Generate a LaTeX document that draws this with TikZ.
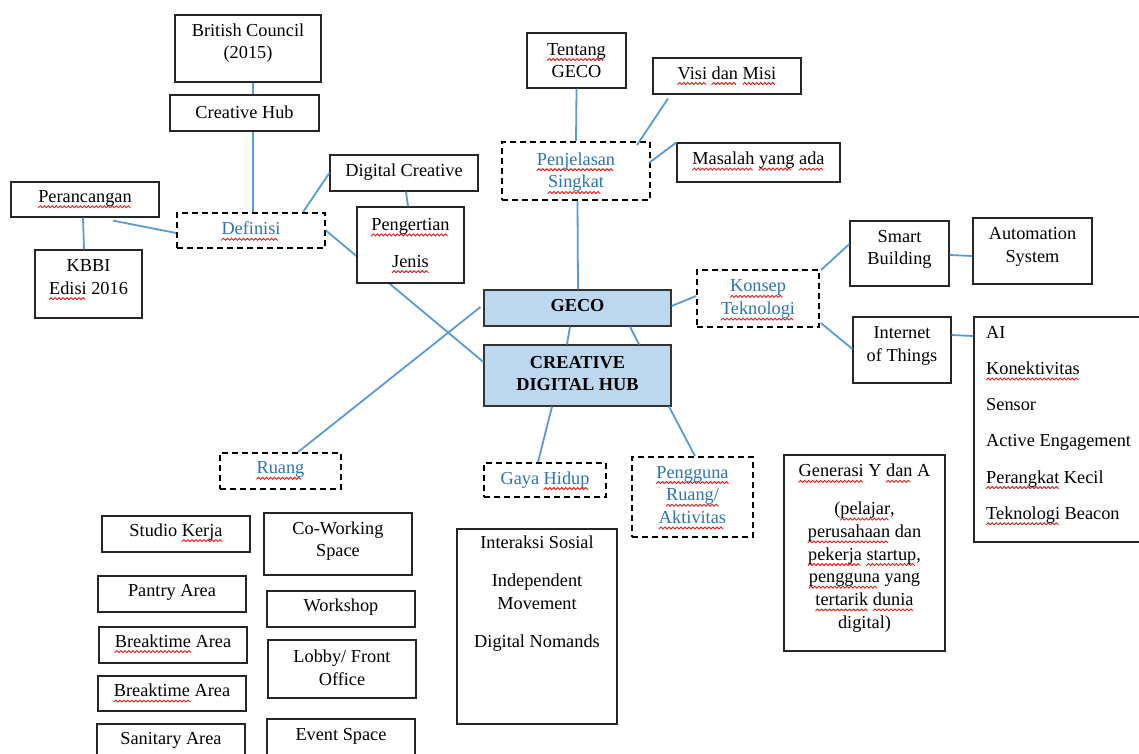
\documentclass[tikz,border=0pt]{standalone}
\usepackage{fontspec}
\setmainfont{Liberation Serif}
\usetikzlibrary{fit,calc}
\definecolor{connblue}{RGB}{91,155,213}
\definecolor{hubfill}{RGB}{189,215,238}
\definecolor{linkblue}{RGB}{46,116,181}
\definecolor{waveRed}{RGB}{230,30,30}
\newcommand\wavepiece{\tikz[x=1pt,y=1pt,baseline=0pt]{\useasboundingbox (0,0) rectangle (4,0);\draw[waveRed,line width=0.9pt,line cap=round] (0,-1)--(2,1)--(4,-1);}}
\newcommand\wv[1]{\setbox0\hbox{#1}\rlap{\lower4.5pt\hbox to \wd0{\leaders\hbox{\wavepiece}\hfill}}\box0\relax}
\tikzset{
 box/.style={draw=black!85, line width=1.2pt, fill=white, inner sep=0pt},
 dbox/.style={draw=black, line width=1.8pt, dash pattern=on 6pt off 4pt, fill=white, inner sep=0pt},
 hub/.style={draw=black!80, line width=1.2pt, fill=hubfill, inner sep=0pt},
 txt/.style={inner sep=0pt, align=center, font=\fontsize{18.3}{22.7}\selectfont},
 ltxt/.style={txt, text=linkblue},
 cline/.style={draw=connblue, line width=1.8pt},
}
\begin{document}
\begin{tikzpicture}[x=1pt,y=-1pt]
\useasboundingbox (0,0) rectangle (1139,753);
\fill[white] (0,0) rectangle (1139,753);
\clip (0,0) rectangle (1139,753);

% left cluster
\node[box, fit={(175,15) (321,82)}] (bc) {};
\node[txt] (bct) at ($(bc.center)+(0,-5.5)$) {British Council\\(2015)};
\node[box, fit={(170,95) (319,131)}] (ch) {};
\node[txt] (cht) at ($(ch.center)+(0,-1)$) {Creative Hub};
\node[box, fit={(11,182) (159,217)}] (per) {};
\node[txt] (pert) at ($(per.center)+(0,-1)$) {\wv{Perancangan}};
\node[dbox, fit={(177,213) (325,248)}] (def) {};
\node[ltxt] (deft) at ($(def.center)+(0,0)$) {\wv{Definisi}};
\node[box, fit={(35,250) (142,318)}] (kbbi) {};
\node[txt] (kbbit) at ($(kbbi.center)+(0,-5)$) {KBBI\\\wv{Edisi} 2016};
\node[box, fit={(330,155) (478,191)}] (dc) {};
\node[txt] (dct) at ($(dc.center)+(0,-1)$) {Digital Creative};

% top cluster
\node[box, fit={(527,33) (626,88)}] (tg) {};
\node[txt] (tgt) at ($(tg.center)+(0,0)$) {\wv{Tentang}\\GECO};
\node[box, fit={(653,58) (801,94)}] (visi) {};
\node[txt] (visit) at ($(visi.center)+(0,-1)$) {\wv{Visi} \wv{dan} \wv{Misi}};
\node[dbox, fit={(502,142) (650,200)}] (pen) {};
\node[ltxt] (pent) at ($(pen.center)+(0,1.5)$) {\wv{Penjelasan}\\\wv{Singkat}};
\node[box, fit={(677,143) (840,182)}] (mas) {};
\node[txt] (mast) at ($(mas.center)+(0,-2)$) {\wv{Masalah} \wv{yang} \wv{ada}};

% hub
\node[hub, fit={(484,290) (671,326)}] (geco) {};
\node[txt] (gecot) at ($(geco.center)+(0,-2)$) {\textbf{GECO}};
\node[hub, fit={(484,345) (671,406)}] (cdh) {};
\node[txt] (cdht) at ($(cdh.center)+(0,-2)$) {\textbf{CREATIVE}\\\textbf{DIGITAL HUB}};

% right cluster
\node[dbox, fit={(697,270) (819,327)}] (kon) {};
\node[ltxt] (kont) at ($(kon.center)+(0,1)$) {\wv{Konsep}\\\wv{Teknologi}};
\node[box, fit={(850,221) (949,286)}] (sb) {};
\node[txt] (sbt) at ($(sb.center)+(0,-4)$) {Smart\\Building};
\node[box, fit={(973,218) (1092,284)}] (as) {};
\node[txt] (ast) at ($(as.center)+(0,-4)$) {Automation\\System};
\node[box, fit={(853,317) (951,383)}] (iot) {};
\node[txt] (iott) at ($(iot.center)+(0,-4)$) {Internet\\of Things};
\node[box, fit={(974,317) (1150,542)}] (list) {};
\node[txt, align=left, anchor=north west] (listt) at (986,326) {AI\\[13.5pt]\wv{Konektivitas}\\[13.5pt]Sensor\\[13.5pt]Active Engagement\\[13.5pt]\wv{Perangkat} Kecil\\[13.5pt]\wv{Teknologi} Beacon};

% lower middle
\node[dbox, fit={(220,453) (341,489)}] (ruang) {};
\node[ltxt] (ruangt) at ($(ruang.center)+(0,-1)$) {\wv{Ruang}};
\node[dbox, fit={(484,463) (606,497)}] (gaya) {};
\node[ltxt] (gayat) at ($(gaya.center)+(0,0)$) {Gaya \wv{Hidup}};
\node[dbox, fit={(632,457) (753,537)}] (peng) {};
\node[ltxt] (pengt) at ($(peng.center)+(0,0)$) {\wv{Pengguna}\\\wv{Ruang/}\\\wv{Aktivitas}};
\node[box, fit={(784,455) (945,651)}] (gen) {};
\node[txt, anchor=north] (gent) at (864.5,464) {\wv{Generasi} Y \wv{dan} A\\[15pt](\wv{pelajar},\\\wv{perusahaan} dan\\\wv{pekerja} \wv{startup},\\\wv{pengguna} yang\\\wv{tertarik} \wv{dunia}\\digital)};
\node[box, fit={(457,529) (617,724)}] (inter) {};
\node[txt, anchor=north] (intert) at (537,536) {Interaksi Sosial\\[15pt]Independent\\Movement\\[15pt]Digital Nomands};

% rooms
\node[box, fit={(102,516) (250,552)}] (studio) {};
\node[txt] (studiot) at ($(studio.center)+(0,-2)$) {Studio \wv{Kerja}};
\node[box, fit={(264,513) (412,575)}] (cws) {};
\node[txt] (cwst) at ($(cws.center)+(0,-3)$) {Co-Working\\Space};
\node[box, fit={(98,576) (246,612)}] (pantry) {};
\node[txt] (pantryt) at ($(pantry.center)+(0,-2)$) {Pantry Area};
\node[box, fit={(267,591) (415,627)}] (work) {};
\node[txt] (workt) at ($(work.center)+(0,-2)$) {Workshop};
\node[box, fit={(99,627) (247,663)}] (brka) {};
\node[txt] (brkat) at ($(brka.center)+(0,-2)$) {\wv{Breaktime} Area};
\node[box, fit={(268,640) (416,698)}] (lobby) {};
\node[txt] (lobbyt) at ($(lobby.center)+(0,-1)$) {Lobby/ Front\\Office};
\node[box, fit={(98,676) (246,711)}] (brkb) {};
\node[txt] (brkbt) at ($(brkb.center)+(0,-1)$) {\wv{Breaktime} Area};
\node[box, fit={(97,724) (245,762)}] (san) {};
\node[txt] (sant) at ($(san.center)+(0,-3)$) {Sanitary Area};
\node[box, fit={(267,719) (415,757)}] (event) {};
\node[txt] (eventt) at ($(event.center)+(0,-2)$) {Event Space};

% connectors
\draw[cline] ($(bc.south)+(5,0)$) -- ($(ch.north)+(8.5,0)$);
\draw[cline] ($(ch.south)+(8.5,0)$) -- ($(def.north)+(2,0)$);
\draw[cline] ($(per.south)+(-2,0)$) -- ($(kbbi.north)+(-4.5,0)$);
\draw[cline] ($(per.south)+(28,3)$) -- ($(def.west)+(0,2.5)$);
\draw[cline] ($(def.north)+(52,0)$) -- (dc.west);
\draw[cline] (def.east) -- ($(cdh.west)+(0,-13.5)$);
\draw[cline] (tg.south) -- (pen.north);
\draw[cline] ($(visi.south)+(-59,4)$) -- ($(pen.north)+(61,4)$);
\draw[cline] (mas.north west) -- ($(pen.east)+(-2,-8)$);
\draw[cline] ($(pen.south)+(1.5,0)$) -- ($(geco.north)+(0.5,0)$);
\draw[cline] ($(geco.east)+(0,-2)$) -- ($(kon.west)+(0,-2.5)$);
\draw[cline] ($(kon.north east)+(1,1)$) -- ($(sb.west)+(0,-9.5)$);
\draw[cline] ($(kon.east)+(1,24.5)$) -- ($(iot.west)+(0,-1)$);
\draw[cline] ($(sb.east)+(0,1.5)$) -- ($(as.west)+(0,5)$);
\draw[cline] ($(iot.east)+(0,-15)$) -- ($(list.west)+(0,-93.5)$);
\draw[cline] ($(geco.south)+(-7.5,0)$) -- ($(cdh.north)+(-10.5,0)$);
\draw[cline] ($(geco.south)+(52.5,0)$) -- ($(cdh.north)+(61.5,0)$);
\draw[cline] ($(geco.west)+(-3,-1)$) -- ($(ruang.north)+(17.5,0)$);
\draw[cline] ($(cdh.south)+(-25.5,0)$) -- ($(gaya.north)+(-7,0)$);
\draw[cline] ($(cdh.south)+(91.5,0)$) -- ($(peng.north)+(2.5,0)$);

% box drawn over the Definisi-hub connector
\node[box, fit={(357,207) (464,283)}] (pj) {};
\node[txt] (pjt) at ($(pj.center)+(0,0)$) {\wv{Pengertian}\\[14pt]\wv{Jenis}};
\draw[cline] ($(dc.south)+(2,0)$) -- ($(pj.north)+(-2.5,0)$);
\end{tikzpicture}
\end{document}
